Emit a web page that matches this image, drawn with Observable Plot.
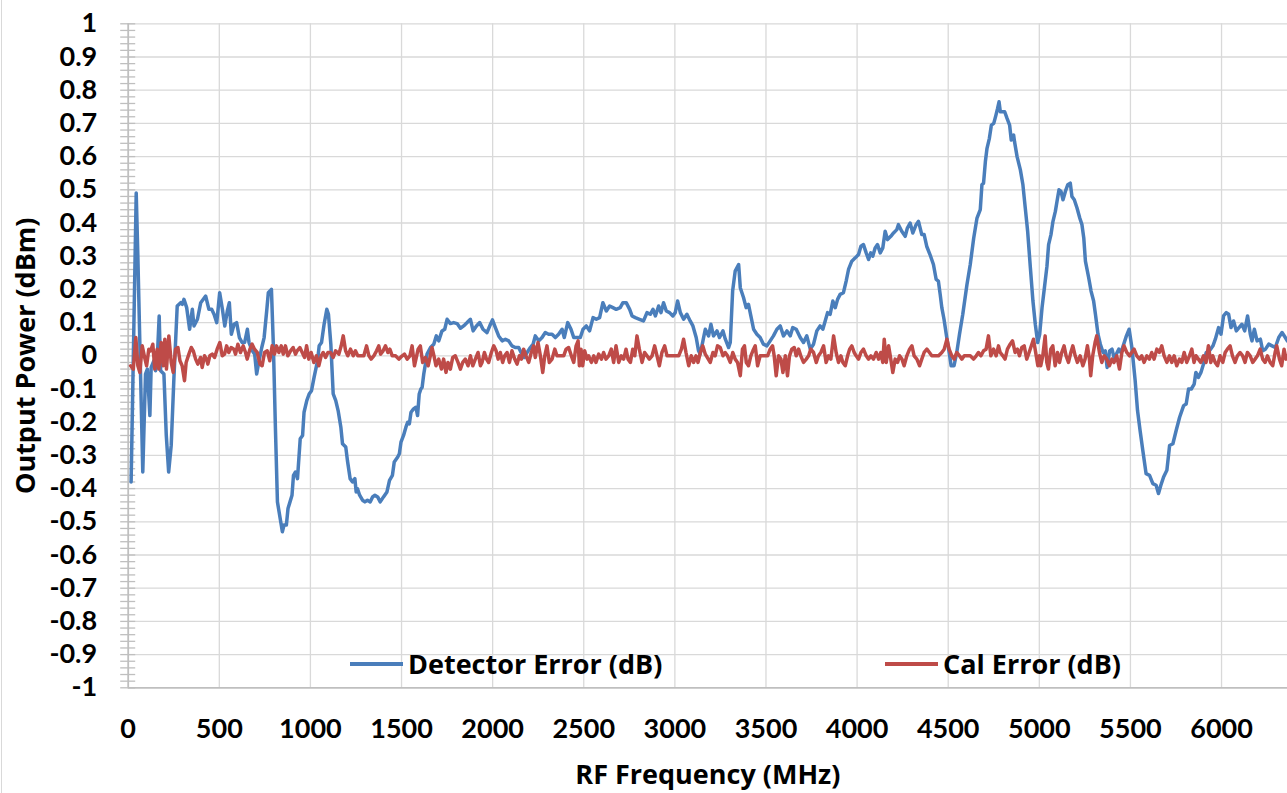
<!DOCTYPE html>
<html>
<head>
<meta charset="utf-8">
<script src="https://cdn.jsdelivr.net/npm/d3@7"></script>
<script src="https://cdn.jsdelivr.net/npm/@observablehq/plot@0.6"></script>
<style>
html, body { margin: 0; padding: 0; background: #fff; }
#wrap { position: relative; width: 1287px; height: 793px; overflow: hidden; font-family: "Open Sans", sans-serif; font-weight: 700; color: #000; }
#border { position: absolute; left: 1px; top: 0; height: 793px; border-left: 1.5px solid #d9d9d9; }
#chart svg { display: block; }
#chart g[aria-label="y-axis label"] text { font-family: "Open Sans", sans-serif; font-size: 27px; }
#chart g[aria-label="x-axis label"] text { font-family: "Open Sans", sans-serif; font-size: 27px; }
#chart g[aria-label="y-axis tick label"] text, #chart g[aria-label="x-axis tick label"] text { font-family: Lato, "Open Sans", sans-serif; font-size: 27px; }
.legend { position: absolute; top: 646px; height: 36px; display: flex; align-items: center; font-size: 27px; line-height: 36px; white-space: nowrap; }
.legend .sw { display: inline-block; width: 53px; height: 3.4px; margin-right: 5px; }
</style>
</head>
<body>
<div id="wrap">
  <div id="chart"></div>
  <div id="border"></div>
  <div class="legend" id="leg1" style="left:350px"><span class="sw" style="background:#4a7ebb"></span><span>Detector Error (dB)</span></div>
  <div class="legend" id="leg2" style="left:885px"><span class="sw" style="background:#be4b48"></span><span>Cal Error (dB)</span></div>
</div>
<script>
// ---------- axis ticks ----------
const xTicks = [0, 500, 1000, 1500, 2000, 2500, 3000, 3500, 4000, 4500, 5000, 5500, 6000];
const yTicks = [-1, -0.9, -0.8, -0.7, -0.6, -0.5, -0.4, -0.3, -0.2, -0.1, 0, 0.1, 0.2, 0.3, 0.4, 0.5, 0.6, 0.7, 0.8, 0.9, 1];
const seriesNames = ["Detector Error (dB)", "Cal Error (dB)"];

// ---------- Detector Error (dB): frequency (MHz) / value ----------
const detFreqA = [16,44,53,80,95,105,119,126,141,150, 159,170,178,196,209,222,236,251,269,288, 297,306,321,337,352,361,380,398,425,443, 458,471,486,502,517,530,544,555,566,581, 595,610,625,639,654,663,681,694,705,718, 733,746,760,769,786,797,808,819,837,846, 855,868,877,888,899,907,918,929,944,957, 965,980,993,1006,1020,1039,1048,1061,1075,1090, 1099,1112,1125,1139,1152,1167,1176,1194,1203,1218, 1231,1244,1251,1258,1270,1286,1299,1313,1328,1341, 1354,1369,1383,1401,1420,1434,1450,1460,1479,1488, 1497,1511,1524,1534,1543,1552,1566,1579,1588,1597, 1606];
const detErrA = [-0.38,0.49,0.30,-0.35,-0.055,-0.04,-0.18,-0.035,-0.015,-0.045, -0.015,0.12,-0.045,-0.055,-0.24,-0.35,-0.27,-0.065,0.15,0.16, 0.155,0.17,0.145,0.08,0.14,0.09,0.11,0.16,0.18,0.14, 0.14,0.125,0.10,0.19,0.14,0.09,0.135,0.16,0.065,0.095, 0.10,0.055,0.04,0.04,0.08,0.04,0.015,0.005,-0.055,-0.015, 0.025,0.055,0.135,0.19,0.20,0.025,-0.22,-0.44,-0.50,-0.53, -0.51,-0.51,-0.46,-0.44,-0.42,-0.36,-0.35,-0.37,-0.25,-0.24, -0.17,-0.135,-0.115,-0.105,-0.065,-0.015,0.03,0.04,0.095,0.14, 0.125,0.035,-0.115,-0.135,-0.165,-0.215,-0.265,-0.275,-0.315,-0.37, -0.38,-0.37,-0.41,-0.40,-0.42,-0.435,-0.44,-0.435,-0.44,-0.425, -0.42,-0.425,-0.44,-0.425,-0.41,-0.375,-0.36,-0.32,-0.305,-0.295, -0.26,-0.24,-0.215,-0.20,-0.205,-0.17,-0.16,-0.155,-0.18,-0.115, -0.10];

const detFreqB = [1613,1622,1640,1659,1677,1691,1704,1722,1737,1750, 1768,1786,1805,1823,1841,1860,1878,1893,1911,1929, 1947,1969,1988,1999,2015,2033,2052,2070,2088,2106, 2124,2143,2156,2174,2189,2207,2222,2234,2253,2271, 2289,2307,2326,2344,2362,2381,2393,2412,2430,2445, 2463,2481,2496,2514,2532,2551,2569,2587,2605,2624, 2642,2660,2678,2700,2715,2733,2752,2765,2783,2806, 2828,2847,2865,2880,2893,2911,2924,2938,2953,2971, 2989,3002,3015,3030,3048,3066,3084,3099,3117,3130, 3139,3154,3167,3185,3198,3212,3231,3245,3264,3277, 3295,3304,3317,3331,3350,3359,3377,3391,3404,3417, 3432,3450,3468,3486,3505,3523,3541,3560,3578,3596, 3615,3633,3647,3666,3688];
const detErrB = [-0.095,-0.055,0.005,0.025,0.035,0.06,0.045,0.075,0.08,0.11, 0.097,0.10,0.097,0.083,0.09,0.10,0.11,0.075,0.09,0.10, 0.08,0.07,0.095,0.108,0.085,0.06,0.045,0.05,0.045,0.03, 0.025,0.025,0.01,-0.005,0.01,0.025,0.035,0.06,0.045,0.055, 0.07,0.065,0.065,0.055,0.065,0.08,0.055,0.10,0.08,0.055, 0.055,0.055,0.08,0.09,0.075,0.115,0.11,0.115,0.16,0.135, 0.15,0.145,0.14,0.145,0.16,0.16,0.14,0.12,0.115,0.11, 0.105,0.13,0.125,0.14,0.12,0.15,0.13,0.16,0.135,0.13, 0.12,0.13,0.165,0.13,0.11,0.125,0.105,0.09,0.055,0.015, 0.005,0.045,0.08,0.06,0.095,0.06,0.075,0.055,0.075,0.05, 0.025,0.04,0.195,0.255,0.275,0.205,0.175,0.145,0.155,0.12, 0.08,0.065,0.055,0.035,0.03,0.045,0.06,0.08,0.09,0.06, 0.075,0.06,0.085,0.08,0.055];

const detFreqC = [3706,3724,3743,3761,3779,3797,3812,3825,3838,3852, 3867,3880,3893,3907,3925,3940,3953,3971,3990,4008, 4021,4035,4050,4063,4075,4086,4099,4112,4127,4141, 4154,4167,4185,4200,4218,4227,4245,4264,4276,4291, 4306,4324,4337,4355,4368,4382,4400,4419,4434,4446, 4456,4465,4477,4492,4507,4516,4532,4547,4562,4580];
const detErrC = [0.04,0.06,0.02,0.035,0.075,0.09,0.08,0.105,0.13,0.125, 0.165,0.145,0.17,0.185,0.19,0.225,0.26,0.285,0.295,0.305, 0.33,0.335,0.31,0.29,0.31,0.30,0.325,0.335,0.31,0.325, 0.375,0.35,0.36,0.37,0.38,0.395,0.375,0.36,0.385,0.40, 0.37,0.395,0.405,0.365,0.365,0.33,0.305,0.275,0.23,0.225, 0.185,0.145,0.11,0.055,0.005,-0.03,-0.03,0.01,0.065,0.125];

const detFreqD = [4603,4621,4640,4658,4676,4685,4694,4704,4713,4726, 4737,4750,4762,4771,4779,4786,4799,4810,4823,4837, 4846,4859,4864,4878,4896,4910,4923,4936,4951,4965, 4978,4991,5002,5015,5028,5042,5051,5064,5075,5088, 5097,5108,5119,5130,5143,5156,5170,5179,5192,5207, 5222,5234,5244,5253,5271,5284,5298,5308,5322,5335, 5350,5362,5372,5386,5399,5412,5427,5436,5448,5463, 5478,5493,5508];
const detErrD = [0.215,0.275,0.355,0.415,0.44,0.515,0.52,0.585,0.625,0.655, 0.695,0.70,0.725,0.745,0.765,0.735,0.735,0.735,0.715,0.695, 0.65,0.665,0.645,0.60,0.56,0.515,0.445,0.375,0.265,0.165, 0.095,0.04,0.065,0.145,0.205,0.27,0.335,0.365,0.405,0.435, 0.465,0.50,0.495,0.47,0.495,0.515,0.52,0.48,0.47,0.445, 0.415,0.395,0.355,0.285,0.235,0.195,0.165,0.125,0.065,0.035, 0.01,0.015,-0.035,0.015,0.02,-0.01,0.01,0.02,0.01,0.035, 0.06,0.08,0.025];

const detFreqE = [5526,5539,5553,5568,5586,5605,5623,5641,5654,5667, 5682,5700,5715,5733,5751,5770,5792,5806,5819,5834, 5850,5859,5873,5887,5901,5916,5934,5953,5966,5984, 5997,6011,6026,6039,6052,6066,6081,6096,6112,6127, 6143,6158,6167,6180,6195,6213,6226,6241,6259,6277, 6295,6314,6332,6350,6361];
const detErrE = [-0.075,-0.165,-0.225,-0.285,-0.355,-0.36,-0.385,-0.39,-0.415,-0.39, -0.365,-0.345,-0.27,-0.265,-0.225,-0.185,-0.15,-0.145,-0.10,-0.10, -0.085,-0.05,-0.065,-0.05,-0.025,0.01,0.015,0.03,0.05,0.085, 0.065,0.12,0.13,0.125,0.085,0.105,0.075,0.085,0.095,0.075, 0.12,0.065,0.045,0.08,0.045,0.05,0.015,0.02,0.035,0.03, 0.025,0.055,0.07,0.055,0.045];

// ---------- Cal Error (dB): frequency (MHz) / value ----------
const calFreqA = [13,28,42,53,64,77,90,101,113,123, 135,146,159,168,181,192,201,210,223,236, 247,260,273,284,296,309,318,333,346,357, 370,382,397,406,419,430,437,448,461,474, 488,503,516,529,540,552,565,580,589,602, 616,631,644,653,668,680,693,708,723,735, 748,763,777,790,803,814,827,840,851,863, 876,891,905,918,927,942,955,968,979,991, 1004,1019,1033,1046,1059,1070,1083,1096,1110,1125, 1138,1156,1169,1180,1193,1205,1220,1235,1247,1260, 1275,1293,1308,1321,1333,1348,1363,1375,1385,1399, 1412,1425,1436,1449,1467,1485,1504,1516,1531,1546, 1558,1571];
const calErrA = [-0.03,-0.04,0.055,-0.03,-0.05,0.03,-0.005,-0.03,0.02,0.015, 0.035,-0.04,0.02,-0.04,0.04,-0.03,0.05,-0.04,0.06,-0.02, -0.05,0.02,0.025,-0.015,-0.03,-0.075,-0.02,0.005,0.025,0.015, -0.01,-0.025,-0.005,-0.035,0,-0.01,-0.025,0,0.005,-0.005, 0.02,0.04,0,0.005,0.03,0.01,0.025,0.02,0.005,0.035, 0.01,0.03,0.01,-0.01,0.02,0.035,0.02,0.01,-0.025,-0.03, 0.01,0.015,-0.015,0.03,0.005,0.03,0.01,0.03,0.005,0.03, 0,0.015,0.025,0.005,0.015,0.025,0.01,-0.005,0.03,-0.01, 0.01,-0.02,0,-0.03,0,0.01,-0.005,0.01,0.01,-0.005, 0.015,0.005,0.03,0.06,0.015,0,0.02,0,0.015,0, 0,0,0.03,0,-0.01,0,0.015,0.03,0.005,0.015, 0.03,0.01,0.02,0,0,-0.01,0,0.005,-0.01,0, 0.03,-0.03];

const calFreqB = [1591,1603,1616,1631,1646,1658,1667,1678,1689,1704, 1719,1731,1744,1755,1768,1781,1795,1810,1823,1836, 1850,1865,1878,1891,1905,1920,1933,1942,1955,1966, 1978,1993,2006,2019,2030,2042,2055,2066,2079,2092, 2106,2121,2134,2147,2158,2170,2183,2198,2212,2225, 2234,2249,2262,2275,2286,2298,2311,2326,2341,2353, 2372,2390,2403,2417,2432,2445,2458,2469,2476,2485, 2494,2505,2518,2527,2542,2555,2567,2582,2597,2609, 2622,2637,2651,2664,2677,2692,2706,2719,2732,2743, 2756,2769,2780,2792,2805,2820,2834,2847,2860,2875, 2889,2902,2915,2929,2944,2957,2984,3021,3036,3048, 3061,3076,3090,3103,3116,3127,3140,3153,3167];
const calErrB = [0.02,0.03,-0.02,-0.005,-0.03,0,0.025,0,-0.03,-0.01, -0.04,-0.01,-0.05,-0.02,-0.04,-0.005,0,-0.02,-0.04,-0.02, -0.01,-0.03,0,-0.03,-0.01,0.01,-0.03,-0.02,0.01,-0.01, -0.02,0.01,0.03,0.015,-0.01,0.01,-0.02,0,0.01,-0.02, 0.015,-0.01,-0.025,0,-0.01,0.02,0,-0.02,0.01,0.03, -0.005,0.04,0,-0.05,0,0.03,-0.02,-0.01,0.02,0, 0,0,0.02,0.025,0,-0.02,0.03,0.045,-0.03,0.02, -0.03,0.015,-0.01,0,-0.02,0,-0.02,0.005,-0.01,0.01, -0.01,0,0.02,-0.02,0.03,-0.02,0,-0.01,0.02,-0.01, -0.02,0.02,0,0.06,0.02,-0.02,0.01,0,-0.01,0, 0.03,0,-0.03,0.01,0.03,0,0,0,0.02,0.05, 0.01,-0.03,0,-0.02,0,-0.02,0.01,0.03,0.005];

const calFreqC = [3194,3209,3221,3234,3249,3264,3276,3289,3304,3318, 3331,3344,3359,3371,3382,3392,3404,3417,3428,3441, 3454,3468,3496,3509,3523,3536,3545,3556,3569,3582, 3593,3606,3618,3629,3642,3655,3666,3679,3691,3706, 3721,3734,3746,3761,3776,3788,3801,3816,3830,3843, 3856,3871,3885,3898,3911,3922,3935,3948,3959,3971, 3984,3995,4008,4021,4035,4050,4063,4076,4090,4105, 4118,4130,4141,4149,4160,4173,4182,4196,4209,4222, 4233,4246,4258,4273,4288,4301,4313,4328,4343,4355, 4368,4383,4397,4410,4447,4465,4478,4493,4505,4520, 4533,4547,4562,4575,4588,4621,4639,4654,4666,4679, 4694,4708,4721,4734,4749,4763,4776];
const calErrC = [-0.02,0.01,0,0.03,0.025,0,0.01,0,-0.02,0.01, -0.01,-0.02,-0.06,0.02,0.03,-0.02,-0.03,0,0.015,0.03, -0.03,0,0,0,0.02,0.03,0,-0.06,0,-0.01, -0.05,0,-0.06,0,0.02,0.025,0,0.02,0,-0.02, -0.01,0,0.02,0.01,-0.02,0,0.01,0.03,-0.02,0, -0.01,0.06,0.01,-0.02,0,-0.02,-0.03,0,0.02,0.03, 0.01,0,-0.01,0.01,0.02,0,-0.01,0,-0.01,0.01, -0.01,0.01,-0.02,0.05,-0.02,0.03,0,-0.05,-0.01,-0.02, 0,-0.01,-0.03,0,0.02,0.03,0,-0.01,-0.03,-0.01, 0.01,0.02,0.01,0,0,0.01,0.02,0.05,0.02,0, -0.01,0.01,0,-0.01,0,0,-0.01,0,0.01,0, 0.015,0.02,0.06,0,0.02,0,0.03];

const calFreqD = [4785,4800,4812,4825,4840,4853,4867,4880,4891,4904, 4917,4931,4944,4959,4968,4983,4992,5001,5008,5019, 5032,5041,5050,5063,5074,5087,5100,5111,5123,5136, 5147,5160,5173,5184,5197,5209,5224,5239,5251,5264, 5275,5282,5293,5306,5315,5330,5343,5356,5370,5385, 5398,5410,5425,5440,5453,5465,5480,5495,5507,5520, 5535,5550,5562,5575,5590,5604,5617,5630,5645,5659, 5672,5685,5700,5714,5727,5740,5754,5769,5782,5795, 5809,5824,5837,5849,5860,5873,5886,5901,5915,5928, 5941,5952,5965,5978,5992,6007,6020,6032,6047,6060, 6074,6087,6102,6116,6129,6142,6157,6171,6184,6197, 6212,6226,6239,6252,6267,6281,6294,6303,6318,6330, 6343,6354,6360];
const calErrD = [0.01,0,-0.01,0.02,0.035,0.045,0.01,0.02,0,0.025, 0.03,-0.01,0.01,0.035,0.05,0,-0.03,0,-0.03,0, 0.06,-0.02,-0.04,0.02,0.03,-0.03,0.01,-0.02,0.01,0.03, 0,-0.02,0.01,0.03,0,-0.02,0,-0.03,-0.01,0.03, -0.01,-0.06,0,0.04,0.06,0.01,-0.02,0,-0.01,-0.03, -0.01,-0.02,0,-0.04,0.01,0.03,0.01,0,0.01,0.02, 0,-0.01,0,-0.02,0,-0.01,0.01,-0.01,0.02,0.01, 0.03,0,-0.02,0,-0.02,0,-0.03,-0.01,-0.02,0.01, -0.02,0,0.02,-0.02,0,-0.01,-0.02,0,-0.02,0.03, -0.02,0,-0.02,-0.03,0,-0.02,0.01,0.02,0.03,0, -0.02,0,0.01,0,-0.02,0.01,0,-0.02,-0.01,0, 0.02,-0.01,-0.02,0,-0.02,-0.03,0.01,0.03,-0.01,-0.03, 0.02,-0.01,0];

// ---------- build tables ----------
function zipSeries(freqs, vals) {
  return freqs.map((f, i) => ({freq: f, value: vals[i]}));
}
const detector = [].concat(
  zipSeries(detFreqA, detErrA), zipSeries(detFreqB, detErrB), zipSeries(detFreqC, detErrC),
  zipSeries(detFreqD, detErrD), zipSeries(detFreqE, detErrE));
const cal = [].concat(
  zipSeries(calFreqA, calErrA), zipSeries(calFreqB, calErrB),
  zipSeries(calFreqC, calErrC), zipSeries(calFreqD, calErrD));

const gridCol = "#d9d9d9";
const axisCol = "#bfbfbf";

const chart = Plot.plot({
  width: 1287,
  height: 793,
  marginLeft: 127.7,
  marginRight: 0,
  marginTop: 23.3,
  marginBottom: 105.7,
  style: {fontFamily: "'Open Sans', sans-serif", fontWeight: 700, fontSize: "27px", color: "#000", background: "transparent", overflow: "visible"},
  x: {domain: [0, 6362], label: null},
  y: {domain: [-1, 1], label: null},
  marks: [
    Plot.gridX(xTicks.filter(d => d > 0), {stroke: gridCol, strokeOpacity: 1, strokeWidth: 1.3}),
    Plot.gridY(yTicks.filter(d => d > -1), {stroke: gridCol, strokeOpacity: 1, strokeWidth: 1.3}),
    Plot.ruleY([-1], {stroke: axisCol, strokeWidth: 1.8}),
    Plot.ruleX([0], {stroke: axisCol, strokeWidth: 1.8}),
    Plot.axisY({ticks: 100, tickSize: 15, dx: 7.5, fill: "none", stroke: axisCol, strokeWidth: 1.3}),
    Plot.axisY(yTicks, {tickSize: 0, tickPadding: 31, tickFormat: d => String(d), fontSize: 27,
      label: "Output Power (dBm)", labelAnchor: "center", labelArrow: "none", labelOffset: 112}),
    Plot.axisX(xTicks, {tickSize: 0, tickPadding: 31, tickFormat: d => String(d), fontSize: 27,
      label: "RF Frequency (MHz)", labelAnchor: "center", labelArrow: "none", labelOffset: 96}),
    Plot.line(detector, {x: "freq", y: "value", stroke: "#4a7ebb", strokeWidth: 3.5, strokeLinejoin: "round", strokeLinecap: "round"}),
    Plot.line(cal, {x: "freq", y: "value", stroke: "#be4b48", strokeWidth: 3.5, strokeLinejoin: "round", strokeLinecap: "round"})
  ]
});
document.getElementById("chart").appendChild(chart);
</script>
</body>
</html>
